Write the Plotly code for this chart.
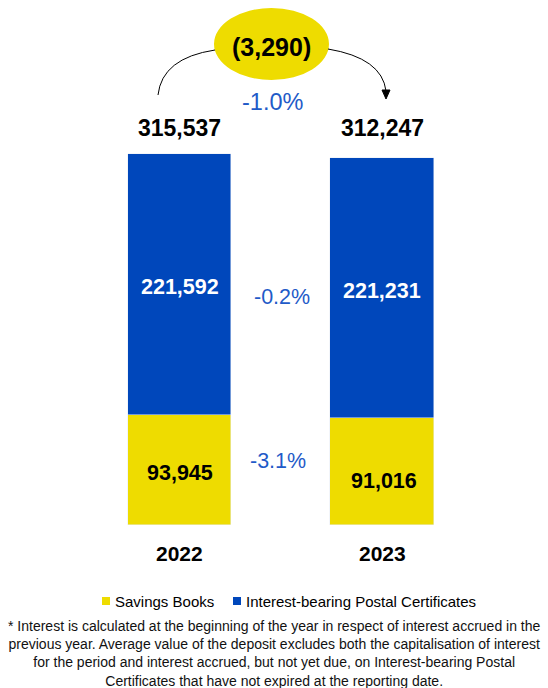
import plotly.graph_objects as go

years = ["2022", "2023"]
savings_books = [93945, 91016]
postal_certificates = [221592, 221231]
totals = [315537, 312247]
change_abs = "(3,290)"
change_total_pct = "-1.0%"
change_postal_pct = "-0.2%"
change_savings_pct = "-3.1%"
legend_labels = ["Savings Books", "Interest-bearing Postal Certificates"]
footnote = ("* Interest is calculated at the beginning of the year in respect of interest accrued in the<br>"
            "previous year. Average value of the deposit excludes both the capitalisation of interest<br>"
            "for the period and interest accrued, but not yet due, on Interest-bearing Postal<br>"
            "Certificates that have not expired at the reporting date.")

W, H = 548, 688
YELLOW = "#EEDC00"
BLUE = "#0047BB"
PCT_BLUE = "#1F5BC8"
FONT = "Liberation Sans, Arial, sans-serif"

def px(x):
    return x / W

def py(y):
    return 1 - y / H

fig = go.Figure()
fig.add_trace(go.Bar(x=years, y=savings_books, name=legend_labels[0], marker_color=YELLOW,
                     width=0.51, showlegend=False))
fig.add_trace(go.Bar(x=years, y=postal_certificates, name=legend_labels[1], marker_color=BLUE,
                     width=0.51, showlegend=False))

ann = []
def text(x, y, s, size, color="black", bold=False, xref="paper"):
    ann.append(dict(x=x if xref != "paper" else px(x), y=py(y), xref=xref, yref="paper",
                    text=f"<b>{s}</b>" if bold else s, showarrow=False,
                    font=dict(size=size, color=color, family=FONT),
                    xanchor="center", yanchor="middle"))

fmt = lambda v: f"{v:,}"
# totals
text(0, 128, fmt(totals[0]), 23, bold=True, xref="x")
text(1, 128, fmt(totals[1]), 23, bold=True, xref="x")
# blue labels
text(0, 287, fmt(postal_certificates[0]), 21.5, color="white", bold=True, xref="x")
text(1, 291, fmt(postal_certificates[1]), 21.5, color="white", bold=True, xref="x")
# yellow labels
text(0, 473, fmt(savings_books[0]), 21.5, bold=True, xref="x")
text(1.01, 481, fmt(savings_books[1]), 21.5, bold=True, xref="x")
# years
text(0, 553, years[0], 21, bold=True, xref="x")
text(1, 553, years[1], 21, bold=True, xref="x")
# percentages
text(272, 102, change_total_pct, 23.5, color=PCT_BLUE)
text(281.5, 297, change_postal_pct, 21.5, color=PCT_BLUE)
text(278, 461, change_savings_pct, 21.5, color=PCT_BLUE)
# ellipse text
text(271, 47, f"{change_abs}", 25, bold=True)
# legend
ann.append(dict(x=px(113), y=py(601), xref="paper", yref="paper", text=legend_labels[0],
                showarrow=False, xanchor="left", yanchor="middle",
                font=dict(size=15, color="black", family=FONT)))
ann.append(dict(x=px(244), y=py(601), xref="paper", yref="paper", text=legend_labels[1],
                showarrow=False, xanchor="left", yanchor="middle",
                font=dict(size=15, color="black", family=FONT)))
# footnote
ann.append(dict(x=0.5, y=py(653), xref="paper", yref="paper", text=footnote,
                showarrow=False, xanchor="center", yanchor="middle", align="center",
                font=dict(size=14, color="#111111", family=FONT)))

shapes = [
    dict(type="circle", xref="paper", yref="paper", x0=px(214), x1=px(329), y0=py(80), y1=py(8),
         fillcolor=YELLOW, line=dict(width=0), layer="below"),
    dict(type="path", xref="paper", yref="paper",
         path=f"M {px(158)},{py(95)} Q {px(162)},{py(58)} {px(215)},{py(50)}",
         line=dict(color="black", width=1)),
    dict(type="path", xref="paper", yref="paper",
         path=f"M {px(328)},{py(49)} Q {px(382)},{py(58)} {px(386)},{py(91)}",
         line=dict(color="black", width=1)),
    dict(type="path", xref="paper", yref="paper",
         path=f"M {px(382)},{py(90)} L {px(390)},{py(90)} L {px(386)},{py(99)} Z",
         fillcolor="black", line=dict(color="black", width=1)),
    dict(type="rect", xref="paper", yref="paper", x0=px(102), x1=px(110), y0=py(605), y1=py(597),
         fillcolor=YELLOW, line=dict(width=0)),
    dict(type="rect", xref="paper", yref="paper", x0=px(233), x1=px(241), y0=py(605), y1=py(597),
         fillcolor=BLUE, line=dict(width=0)),
]

x0 = -179.5 / 202.5
fig.update_layout(
    width=W, height=H, barmode="stack", bargap=0,
    margin=dict(l=0, r=0, t=0, b=0),
    paper_bgcolor="white", plot_bgcolor="white",
    xaxis=dict(type="category", range=[x0, x0 + W / 202.5], visible=False, fixedrange=True),
    yaxis=dict(range=[0, 315537 * 525 / 371], domain=[py(525), 1], visible=False, fixedrange=True),
    annotations=ann, shapes=shapes, showlegend=False,
)
fig.write_html("out.html", config={"displayModeBar": False},
               post_script="document.body.style.margin='0';document.body.style.overflow='hidden';")
